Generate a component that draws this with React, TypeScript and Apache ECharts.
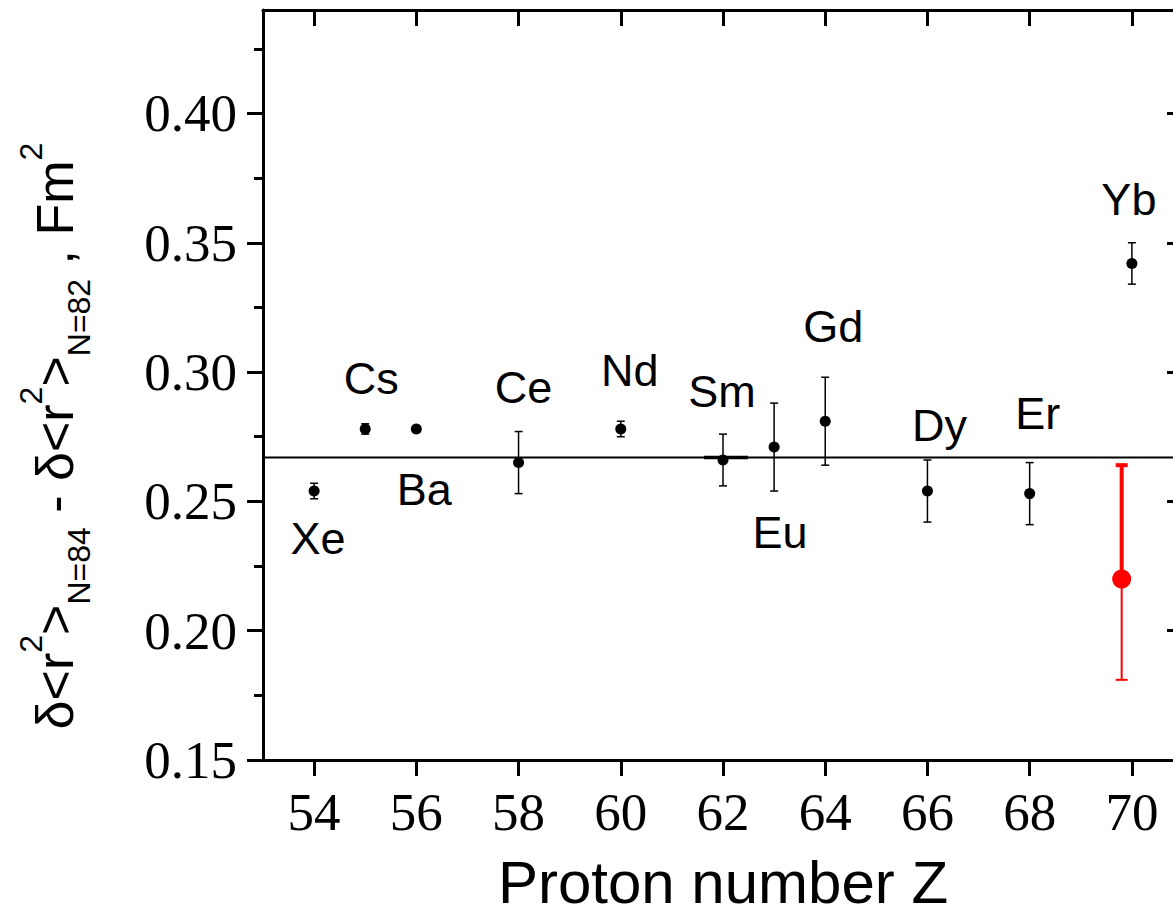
import React, { useEffect, useRef } from "react";
import * as echarts from "echarts";

// Isotone shift differences δ<r²>(N=84) − δ<r²>(N=82) along the N = 84 chain
const elements = ["Xe", "Cs", "Ba", "Ce", "Nd", "Sm", "Eu", "Gd", "Dy", "Er", "Yb"];
const protonNumbers = [54, 55, 56, 58, 60, 62, 63, 64, 66, 68, 70];
const radiusShifts = [0.254, 0.278, 0.278, 0.265, 0.278, 0.266, 0.271, 0.281, 0.254, 0.253, 0.342];
const shiftErrors = [0.003, 0.002, 0.001, 0.012, 0.003, 0.01, 0.017, 0.017, 0.012, 0.012, 0.008];

// New Yb measurement (asymmetric uncertainty)
const newZ = [69.8];
const newShift = [0.22];
const newLower = [0.181];
const newUpper = [0.264];

// Mean level across the chain and the short segment drawn over it near Sm
const meanLevel = 0.267;
const meanSpan = [53, 71];
const smSegment = [61.63, 62.49];

const zTicks = [54, 56, 58, 60, 62, 64, 66, 68, 70];
const yTicks = [0.15, 0.2, 0.25, 0.3, 0.35, 0.4];
const yMinorTicks = [0.175, 0.225, 0.275, 0.325, 0.375, 0.425];

// label placement relative to each point, in pixels
const labelOffsets: [number, number][] = [
  [4, 47], [6, -50], [8, 61], [5, -75], [9, -58], [-1, -69],
  [6, 85], [8, -95], [12, -66], [8, -80], [-3, -64],
];

const SANS = "Liberation Sans, Arial, sans-serif";
const SERIF = "Liberation Serif, Times New Roman, serif";

export default function App() {
  const ref = useRef<HTMLDivElement>(null);

  useEffect(() => {
    if (!ref.current) return;
    const chart = echarts.init(ref.current, null, { renderer: "svg" });

    const axisLine = { show: true, lineStyle: { color: "#000", width: 3 } };

    const errorData = protonNumbers.map((z, i) => [
      z,
      radiusShifts[i] - shiftErrors[i],
      radiusShifts[i] + shiftErrors[i],
    ]);

    const pointData = protonNumbers.map((z, i) => ({
      value: [z, radiusShifts[i]],
      name: elements[i],
      label: { offset: labelOffsets[i] },
    }));

    const option: any = {
      animation: false,
      backgroundColor: "#ffffff",
      grid: {
        left: 263,
        top: 10,
        right: -10,
        bottom: 150,
        containLabel: false,
        outerBoundsMode: "none",
      },
      xAxis: [
        {
          type: "value",
          position: "bottom",
          min: 53,
          max: 71,
          axisLine,
          axisTick: {
            show: true,
            inside: false,
            length: 16,
            customValues: zTicks,
            lineStyle: { color: "#000", width: 3 },
          },
          axisLabel: {
            show: true,
            customValues: zTicks,
            margin: 25,
            color: "#000",
            fontFamily: SERIF,
            fontSize: 53,
            formatter: (v: number) => String(v),
          },
          splitLine: { show: false },
          name: "Proton number Z",
          nameLocation: "middle",
          nameGap: 98,
          nameTextStyle: { color: "#000", fontFamily: SANS, fontSize: 60, lineHeight: 48 },
        },
        {
          type: "value",
          position: "top",
          min: 53,
          max: 71,
          axisLine,
          axisTick: {
            show: true,
            inside: true,
            length: 16,
            customValues: zTicks,
            lineStyle: { color: "#000", width: 3 },
          },
          axisLabel: { show: false },
          splitLine: { show: false },
        },
      ],
      yAxis: [
        {
          type: "value",
          position: "left",
          min: 0.15,
          max: 0.44,
          axisLine,
          axisTick: {
            show: true,
            inside: false,
            length: 16,
            customValues: yTicks,
            lineStyle: { color: "#000", width: 3 },
          },
          axisLabel: {
            show: true,
            customValues: yTicks,
            margin: 26,
            color: "#000",
            fontFamily: SERIF,
            fontSize: 53,
            formatter: (v: number) => v.toFixed(2),
          },
          splitLine: { show: false },
        },
        {
          type: "value",
          position: "left",
          min: 0.15,
          max: 0.44,
          axisLine: { show: false },
          axisTick: {
            show: true,
            inside: false,
            length: 9,
            customValues: yMinorTicks,
            lineStyle: { color: "#000", width: 3 },
          },
          axisLabel: { show: false },
          splitLine: { show: false },
        },
        {
          type: "value",
          position: "right",
          min: 0.15,
          max: 0.44,
          axisLine,
          axisTick: {
            show: true,
            inside: true,
            length: 16,
            customValues: yTicks,
            lineStyle: { color: "#000", width: 3 },
          },
          axisLabel: { show: false },
          splitLine: { show: false },
        },
      ],
      graphic: [
        {
          type: "text",
          x: 55,
          y: 436,
          rotation: Math.PI / 2,
          style: {
            text:
              "{m|δ<r}{sup|2}{m|>}{sub|N=84}{m| - δ<r}{sup|2}{m|>}{sub|N=82}{m| , Fm}{sup|2}",
            align: "center",
            verticalAlign: "middle",
            fill: "#000",
            rich: {
              m: { fontSize: 52, fontFamily: SANS, fill: "#000", lineHeight: 80, verticalAlign: "middle" },
              sup: { fontSize: 32, fontFamily: SANS, fill: "#000", lineHeight: 32, verticalAlign: "top" },
              sub: { fontSize: 32, fontFamily: SANS, fill: "#000", lineHeight: 32, verticalAlign: "bottom" },
            },
          },
        },
      ],
      series: [
        {
          type: "line",
          data: meanSpan.map((z) => [z, meanLevel]),
          symbol: "none",
          lineStyle: { color: "#000", width: 2 },
          silent: true,
          z: 1,
        },
        {
          type: "line",
          data: smSegment.map((z) => [z, meanLevel]),
          symbol: "none",
          lineStyle: { color: "#000", width: 3.5 },
          silent: true,
          z: 1,
        },
        {
          type: "custom",
          data: errorData,
          encode: { x: 0, y: [1, 2] },
          z: 2,
          renderItem: (params: any, api: any) => {
            const x = api.value(0);
            const lo = api.coord([x, api.value(1)]);
            const hi = api.coord([x, api.value(2)]);
            const hw = 4;
            const style = { stroke: "#000", lineWidth: 1.5 };
            return {
              type: "group",
              children: [
                { type: "line", shape: { x1: lo[0], y1: lo[1], x2: hi[0], y2: hi[1] }, style },
                { type: "line", shape: { x1: lo[0] - hw, y1: lo[1], x2: lo[0] + hw, y2: lo[1] }, style },
                { type: "line", shape: { x1: hi[0] - hw, y1: hi[1], x2: hi[0] + hw, y2: hi[1] }, style },
              ],
            };
          },
        },
        {
          type: "scatter",
          data: pointData,
          symbol: "circle",
          symbolSize: 11,
          itemStyle: { color: "#000", opacity: 1 },
          z: 3,
          label: {
            show: true,
            position: "inside",
            formatter: (p: any) => p.name,
            color: "#000",
            opacity: 1,
            fontFamily: SANS,
            fontSize: 45,
            align: "center",
            verticalAlign: "middle",
          },
        },
        {
          type: "custom",
          data: newZ.map((z, i) => [z, newShift[i], newLower[i], newUpper[i]]),
          encode: { x: 0, y: [1, 2, 3] },
          z: 4,
          renderItem: (params: any, api: any) => {
            const x = api.value(0);
            const c = api.coord([x, api.value(1)]);
            const lo = api.coord([x, api.value(2)]);
            const hi = api.coord([x, api.value(3)]);
            const hw = 6;
            const thick = { stroke: "#ff0000", lineWidth: 4 };
            const thin = { stroke: "#ff0000", lineWidth: 2 };
            return {
              type: "group",
              children: [
                { type: "line", shape: { x1: c[0], y1: c[1], x2: hi[0], y2: hi[1] }, style: thick },
                { type: "line", shape: { x1: hi[0] - hw, y1: hi[1], x2: hi[0] + hw, y2: hi[1] }, style: thick },
                { type: "line", shape: { x1: c[0], y1: c[1], x2: lo[0], y2: lo[1] }, style: thin },
                { type: "line", shape: { x1: lo[0] - hw, y1: lo[1], x2: lo[0] + hw, y2: lo[1] }, style: thin },
              ],
            };
          },
        },
        {
          type: "scatter",
          data: newZ.map((z, i) => [z, newShift[i]]),
          symbol: "circle",
          symbolSize: 19,
          itemStyle: { color: "#ff0000", opacity: 1 },
          z: 5,
        },
      ],
    };

    chart.setOption(option);
    return () => chart.dispose();
  }, []);

  return (
    <div
      ref={ref}
      style={{ position: "fixed", left: 0, top: 0, width: 1173, height: 910, background: "#fff" }}
    />
  );
}
